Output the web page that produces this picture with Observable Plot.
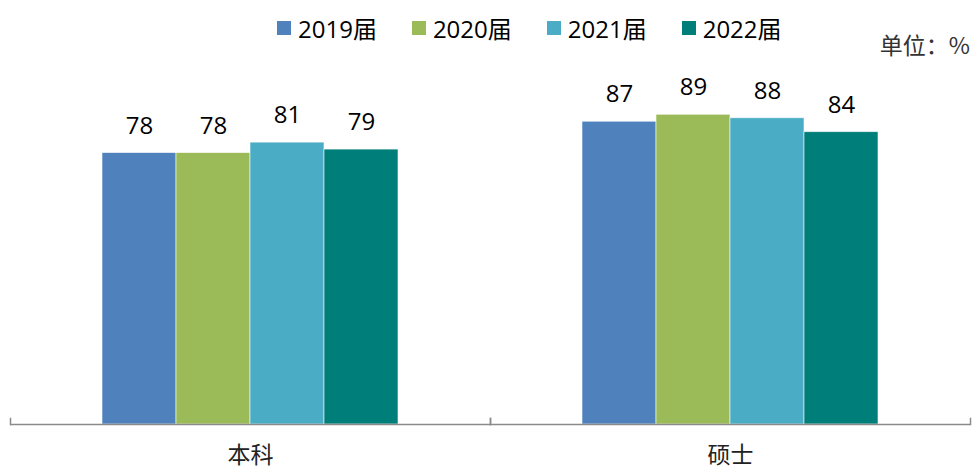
<!DOCTYPE html>
<html>
<head>
<meta charset="utf-8">
<script src="https://cdn.jsdelivr.net/npm/d3@7"></script>
<script src="https://cdn.jsdelivr.net/npm/@observablehq/plot@0.6"></script>
<style>
  html, body { margin: 0; padding: 0; background: #fff; }
  #wrap { position: relative; width: 974px; height: 472px; overflow: hidden; }
  #legend { position: absolute; left: 277px; top: 10px; }
  .lg-swatches { font-family: "Open Sans", "Noto Sans CJK SC", sans-serif; font-size: 24px; color: #000; margin: 0; }
  .lg-swatch { margin-right: 35px !important; }
  .lg-swatch > svg { margin-right: 7px !important; }
  #unit { position: absolute; right: 4px; top: 27px; font-family: "Noto Sans CJK SC", sans-serif; font-size: 23px; color: #333; white-space: pre; }
</style>
</head>
<body>
<div id="wrap">
  <div id="chart"></div>
  <div id="legend"></div>
  <div id="unit"></div>
</div>
<script>
const categories = ["本科", "硕士"];
const years = ["2019届", "2020届", "2021届", "2022届"];
const bachelor = [78, 78, 81, 79];
const master = [87, 89, 88, 84];
const unitLabel = "单位：%";

const palette = ["#4F81BD", "#9BBB59", "#4BACC6", "#007E7A"];

const seriesByCategory = [bachelor, master];
const data = [];
categories.forEach((c, i) => {
  years.forEach((y, j) => data.push({cat: c, year: y, value: seriesByCategory[i][j]}));
});

const axisColor = "#8a8a8a";

const chart = Plot.plot({
  width: 974,
  height: 472,
  marginTop: 76,
  marginBottom: 48,
  marginLeft: 10,
  marginRight: 4,
  style: {background: "#fff"},
  fx: {domain: categories, paddingInner: 0, paddingOuter: 0, label: null},
  x: {domain: years, paddingInner: 0, paddingOuter: 1.243, axis: null},
  y: {domain: [0, 100], axis: null},
  color: {domain: years, range: palette},
  marks: [
    Plot.barY(data, {fx: "cat", x: "year", y: "value", fill: "year", stroke: "#ffffff", strokeWidth: 0.8, strokeOpacity: 0.7}),
    Plot.text(data, {fx: "cat", x: "year", y: "value", text: d => String(d.value), dy: -27, lineAnchor: "middle", fontSize: 24, fontFamily: "Open Sans", fill: "#000"}),
    Plot.ruleY([0], {stroke: axisColor, strokeWidth: 1.5}),
    Plot.frame({anchor: "left", insetTop: 342, stroke: axisColor, strokeWidth: 1.5}),
    Plot.frame({anchor: "right", insetTop: 342, stroke: axisColor, strokeWidth: 1.5}),
    Plot.axisFx({anchor: "bottom", tickSize: 0, tickPadding: 22, label: null, fontSize: 23, fontFamily: "Noto Sans CJK SC", fill: "#222"})
  ]
});
document.getElementById("chart").appendChild(chart);

const legend = Plot.legend({
  color: {domain: years, range: palette},
  legend: "swatches",
  swatchSize: 14,
  className: "lg"
});
document.getElementById("legend").appendChild(legend);
document.getElementById("unit").textContent = unitLabel;
</script>
</body>
</html>
